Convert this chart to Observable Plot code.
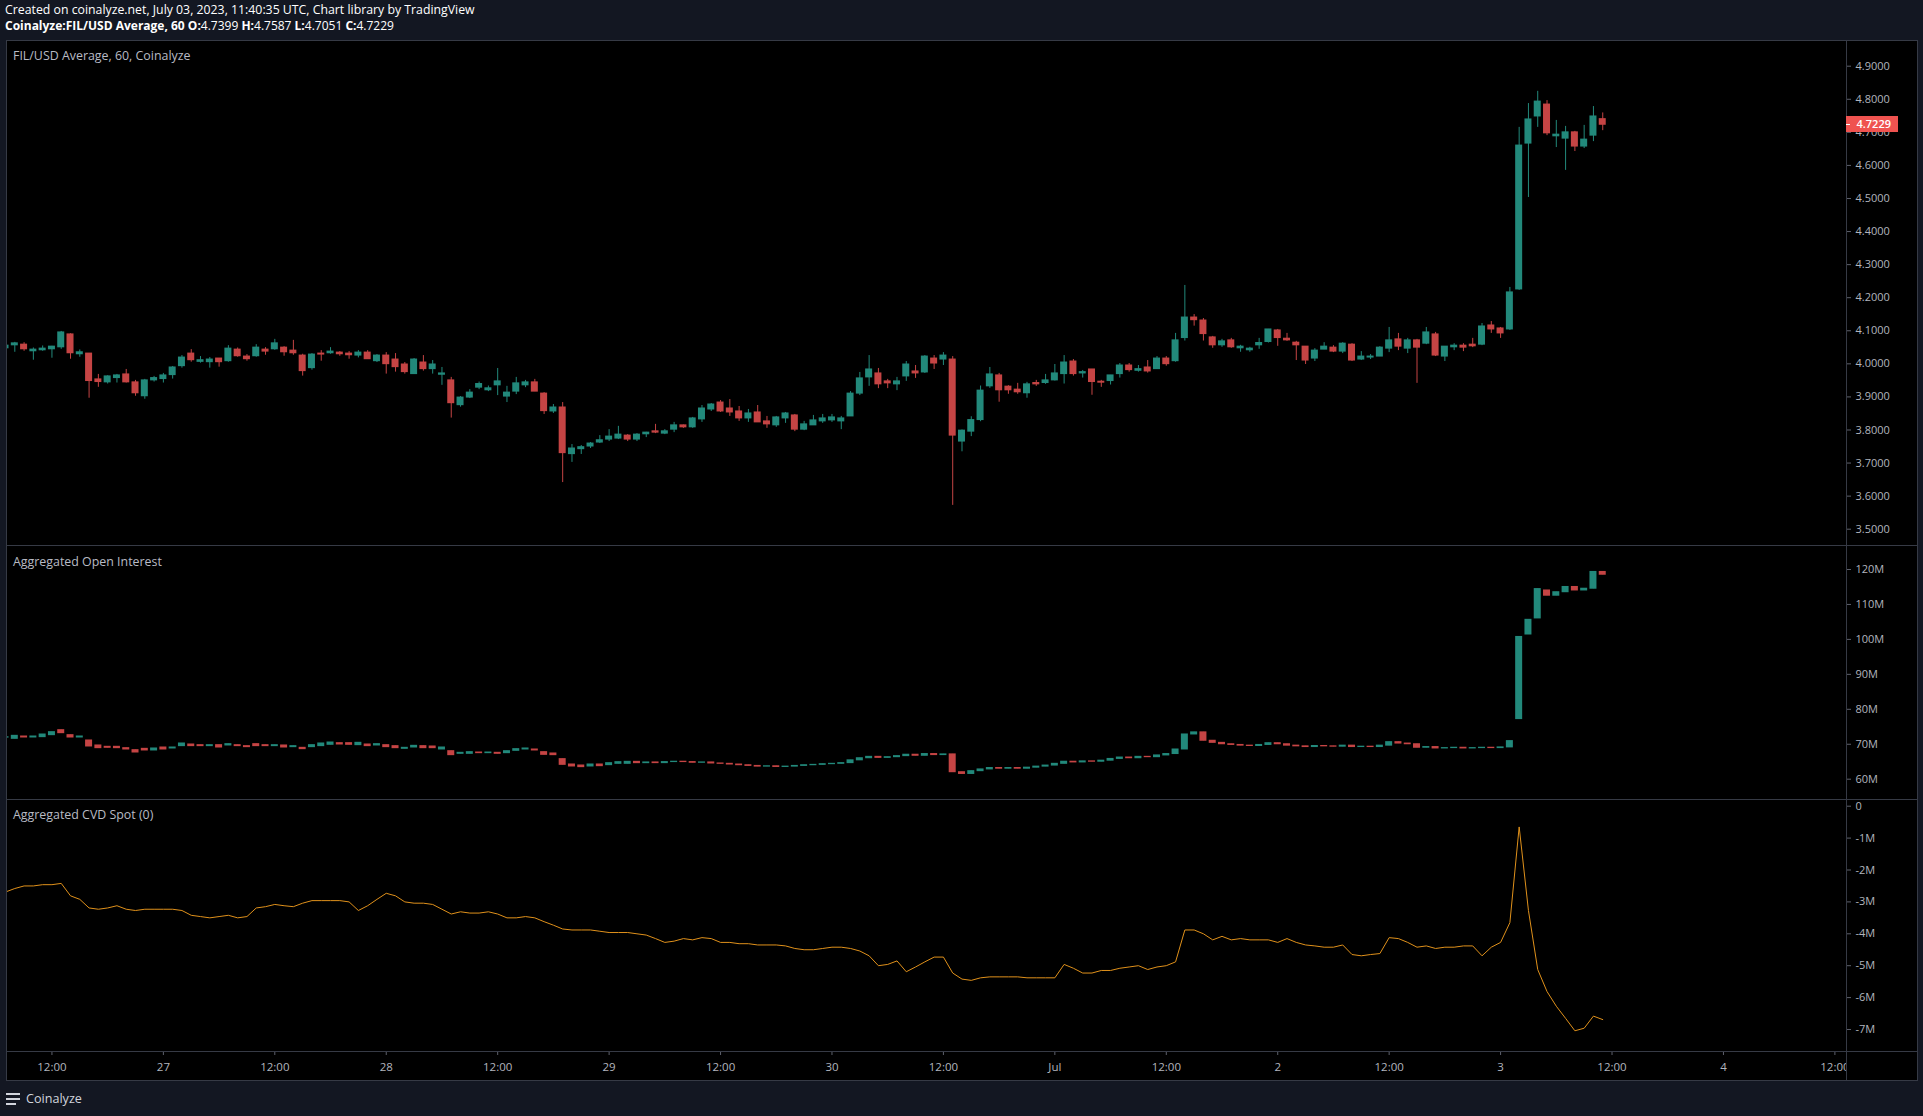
<!DOCTYPE html>
<html>
<head>
<meta charset="utf-8">
<script src="https://cdn.jsdelivr.net/npm/d3@7"></script>
<script src="https://cdn.jsdelivr.net/npm/@observablehq/plot@0.6"></script>
<style>
  html, body { margin:0; padding:0; }
  body { width:1923px; height:1116px; background:#131722; overflow:hidden; position:relative; font-family:"Open Sans", sans-serif; }
  .abs { position:absolute; }
  .hdr { left:5px; color:#ffffff; font-size:12.3px; white-space:nowrap; line-height:14px; }
  .lbl { left:13px; color:#b8bbc4; font-size:12.4px; white-space:nowrap; line-height:14px; }
  .ln { position:absolute; background:#363a45; }
  .pane { position:absolute; overflow:hidden; }
  .pane svg { display:block; }
  #cvd, #cvd svg { overflow:visible; }
</style>
</head>
<body>
<div class="abs hdr" style="top:3px">Created on coinalyze.net, July 03, 2023, 11:40:35 UTC, Chart library by TradingView</div>
<div class="abs hdr" style="top:19px;font-size:12px"><b>Coinalyze:FIL/USD Average, 60 O:</b>4.7399 <b>H:</b>4.7587 <b>L:</b>4.7051 <b>C:</b>4.7229</div>
<div class="abs" style="left:6px;top:40px;width:1911px;height:1040px;background:#000"></div>
<div id="price" class="pane" style="left:7px;top:41px;width:1910px;height:504px"></div>
<div id="oi" class="pane" style="left:7px;top:546px;width:1910px;height:253px"></div>
<div class="ln" style="left:6px;top:40px;width:1911px;height:1px"></div>
<div class="ln" style="left:6px;top:545px;width:1911px;height:1px"></div>
<div class="ln" style="left:6px;top:799px;width:1911px;height:1px"></div>
<div class="ln" style="left:6px;top:1051px;width:1911px;height:1px"></div>
<div class="ln" style="left:6px;top:1080px;width:1911px;height:1px"></div>
<div class="ln" style="left:6px;top:40px;width:1px;height:1041px"></div>
<div class="ln" style="left:1846px;top:40px;width:1px;height:1041px"></div>
<div class="ln" style="left:1917px;top:40px;width:1px;height:1041px"></div>
<div id="cvd" class="pane" style="left:7px;top:800px;width:1910px;height:251px"></div>
<div id="time" class="pane" style="left:7px;top:1052px;width:1839px;height:28px"></div>
<div class="abs lbl" style="top:49px">FIL/USD Average, 60, Coinalyze</div>
<div class="abs lbl" style="top:555px">Aggregated Open Interest</div>
<div class="abs lbl" style="top:808px">Aggregated CVD Spot (0)</div>
<div id="last" class="abs" style="left:1846px;width:52px;height:16px;background:#ef5350;color:#fff;font-size:11px;font-weight:600;line-height:16px;text-align:right"></div>
<div class="abs" style="left:6px;top:1093px">
  <div style="width:14px;height:2px;background:#d1d4dc;margin-bottom:3px"></div>
  <div style="width:14px;height:2px;background:#d1d4dc;margin-bottom:3px"></div>
  <div style="width:10px;height:2px;background:#d1d4dc"></div>
</div>
<div class="abs" style="left:26px;top:1091px;color:#d1d4dc;font-size:12.6px;line-height:16px">Coinalyze</div>
<script>
// ---- DATA (hourly candles, first = 2023-06-26 07:00 UTC) ----
const firstHour = "2023-06-26T07:00:00Z";

const priceOpen = [4.047,4.056,4.058,4.038,4.041,4.044,4.050,4.089,4.029,4.031,3.953,
3.944,3.957,3.968,3.944,3.902,3.950,3.954,3.966,3.993,4.031,
4.006,4.005,4.016,4.008,4.043,4.022,4.023,4.043,4.044,4.049,
4.040,4.025,3.987,4.031,4.032,4.034,4.031,4.025,4.034,4.008,
4.025,4.013,3.998,3.969,4.004,3.984,3.967,3.950,3.875,3.898,
3.928,3.920,3.935,3.901,3.916,3.935,3.944,3.910,3.856,3.868,
3.727,3.742,3.750,3.762,3.771,3.774,3.783,3.771,3.787,3.796,
3.789,3.801,3.814,3.808,3.832,3.862,3.883,3.865,3.856,3.835,
3.853,3.826,3.814,3.835,3.844,3.801,3.814,3.826,3.829,3.826,
3.841,3.910,3.959,3.971,3.947,3.938,3.962,3.977,3.974,4.016,
4.013,4.013,3.765,3.795,3.830,3.932,3.965,3.931,3.922,3.911,
3.942,3.942,3.950,3.969,4.007,3.971,3.983,3.946,3.948,3.969,
3.995,3.979,3.989,3.984,4.016,4.008,4.078,4.140,4.131,4.080,
4.056,4.071,4.047,4.041,4.056,4.066,4.101,4.076,4.064,4.052,
4.016,4.043,4.049,4.037,4.058,4.013,4.019,4.022,4.046,4.074,
4.046,4.071,4.061,4.089,4.022,4.050,4.055,4.058,4.058,4.116,
4.107,4.104,4.225,4.666,4.748,4.784,4.688,4.681,4.700,4.657,
4.690,4.7399];

const priceHigh = [4.057,4.065,4.064,4.048,4.054,4.053,4.098,4.091,4.042,4.031,3.968,
3.964,3.968,3.983,3.950,3.953,3.962,3.971,3.992,4.025,4.043,
4.022,4.019,4.016,4.055,4.048,4.028,4.058,4.049,4.074,4.052,
4.071,4.029,4.031,4.040,4.049,4.037,4.037,4.040,4.040,4.028,
4.034,4.031,4.004,4.016,4.025,4.010,3.989,3.959,3.901,3.922,
3.945,3.933,3.986,3.932,3.959,3.950,3.953,3.913,3.877,3.883,
3.756,3.753,3.762,3.783,3.801,3.811,3.786,3.789,3.793,3.817,
3.801,3.823,3.815,3.838,3.874,3.880,3.889,3.892,3.871,3.862,
3.874,3.841,3.841,3.853,3.847,3.826,3.844,3.847,3.847,3.841,
3.916,3.974,4.025,3.986,3.953,3.959,4.007,3.995,4.025,4.025,
4.034,4.022,3.800,3.840,3.933,3.989,3.971,3.934,3.941,3.944,
3.950,3.968,3.998,4.025,4.013,3.980,3.983,3.950,3.965,4.001,
4.001,3.995,4.010,4.022,4.022,4.092,4.237,4.149,4.137,4.083,
4.074,4.077,4.056,4.050,4.077,4.104,4.104,4.092,4.068,4.052,
4.046,4.064,4.055,4.064,4.061,4.037,4.028,4.052,4.110,4.092,
4.077,4.074,4.110,4.095,4.025,4.061,4.061,4.077,4.122,4.128,
4.110,4.231,4.715,4.787,4.824,4.796,4.736,4.718,4.703,4.721,
4.778,4.7587];

const priceLow = [4.045,4.035,4.038,4.011,4.038,4.017,4.044,4.014,4.020,3.896,3.929,
3.939,3.942,3.942,3.902,3.893,3.945,3.942,3.954,3.987,4.005,
4.002,3.987,3.990,4.005,4.020,4.008,4.020,4.026,4.041,4.023,
4.026,3.963,3.981,4.008,4.029,4.023,4.014,4.018,4.014,4.004,
3.969,3.975,3.969,3.969,3.978,3.969,3.935,3.836,3.869,3.895,
3.922,3.916,3.904,3.883,3.907,3.928,3.916,3.847,3.850,3.641,
3.702,3.726,3.744,3.759,3.765,3.771,3.765,3.765,3.777,3.789,
3.786,3.792,3.805,3.805,3.823,3.856,3.853,3.841,3.826,3.823,
3.823,3.805,3.808,3.820,3.795,3.798,3.814,3.820,3.823,3.801,
3.841,3.904,3.932,3.925,3.925,3.919,3.947,3.956,3.971,3.983,
3.995,3.572,3.734,3.780,3.825,3.926,3.884,3.908,3.908,3.896,
3.932,3.938,3.948,3.939,3.963,3.957,3.905,3.929,3.936,3.957,
3.975,3.975,3.972,3.983,3.993,4.005,4.069,4.114,4.069,4.047,
4.050,4.047,4.035,4.035,4.044,4.063,4.053,4.068,4.010,3.998,
4.007,4.043,4.034,4.031,4.007,4.010,4.013,4.022,4.034,4.040,
4.031,3.941,4.058,4.022,4.007,4.040,4.037,4.049,4.055,4.092,
4.077,4.101,4.222,4.503,4.715,4.690,4.654,4.585,4.642,4.651,
4.672,4.7051];

const priceClose = [4.055,4.062,4.044,4.043,4.046,4.052,4.095,4.032,4.035,3.948,3.945,
3.962,3.965,3.944,3.911,3.950,3.957,3.965,3.989,4.019,4.011,
4.011,4.013,4.005,4.046,4.023,4.014,4.049,4.037,4.062,4.035,
4.032,3.978,4.028,4.028,4.037,4.029,4.026,4.034,4.014,4.025,
3.999,3.990,3.975,4.013,3.984,3.998,3.971,3.881,3.898,3.913,
3.939,3.926,3.947,3.913,3.941,3.944,3.916,3.857,3.868,3.730,
3.744,3.748,3.759,3.769,3.780,3.786,3.771,3.786,3.792,3.792,
3.796,3.814,3.808,3.835,3.865,3.877,3.856,3.853,3.835,3.850,
3.823,3.817,3.838,3.850,3.801,3.817,3.829,3.835,3.838,3.835,
3.910,3.956,3.983,3.938,3.941,3.947,3.998,3.971,4.022,4.001,
4.025,3.783,3.798,3.830,3.919,3.968,3.920,3.920,3.914,3.938,
3.938,3.950,3.971,4.004,3.969,3.975,3.945,3.943,3.965,3.995,
3.981,3.984,3.977,4.016,3.999,4.071,4.140,4.132,4.090,4.056,
4.068,4.050,4.052,4.046,4.063,4.104,4.078,4.071,4.056,4.010,
4.040,4.052,4.037,4.061,4.010,4.022,4.022,4.049,4.071,4.052,
4.071,4.049,4.095,4.025,4.052,4.055,4.049,4.053,4.113,4.104,
4.092,4.216,4.660,4.739,4.793,4.697,4.693,4.700,4.657,4.678,
4.748,4.7229];

// Aggregated open interest, millions
const oiOpen = [71.9,71.55,72.22,71.93,72.03,72.60,74.03,72.60,71.93,71.08,69.65,
69.27,69.27,68.88,68.31,68.69,68.22,69.07,68.79,69.46,69.93,
69.74,69.46,69.74,69.65,69.74,69.46,70.03,69.74,69.46,69.65,
69.17,68.98,69.17,69.46,69.84,70.31,70.31,69.74,69.93,69.65,
69.74,69.46,68.69,69.07,69.46,69.36,68.50,68.02,67.26,67.26,
67.64,67.45,67.55,67.45,68.12,68.50,68.50,67.74,67.36,65.74,
64.21,63.92,63.64,64.21,64.02,64.40,64.40,64.97,64.59,64.8,
64.6,64.9,65.0,64.9,64.7,64.8,64.5,64.4,64.2,64.0,
63.8,63.6,63.7,63.5,63.6,63.8,64.0,64.1,64.3,64.4,
64.6,65.4,66.0,66.4,66.1,66.3,66.6,67.0,66.7,67.2,
66.9,67.1,62.0,61.5,62.3,62.8,63.2,63.0,63.2,63.0,
63.3,63.6,63.9,64.4,65.0,64.8,65.1,65.0,65.3,65.8,
66.2,66.0,66.4,66.3,66.8,67.2,68.5,72.8,73.4,71.0,
70.4,70.0,69.8,69.6,69.5,69.8,70.3,70.0,69.6,69.4,
69.2,69.5,69.4,69.3,69.6,69.2,69.3,69.2,69.6,70.6,
70.2,70.0,69.0,69.2,68.8,68.9,69.0,68.8,68.9,69.0,
68.9,69.1,77.2,101.4,106.0,114.0,112.5,113.5,115.0,114.0,
114.5,119.3];

const oiClose = [72.0,72.41,71.93,72.22,72.79,73.46,73.17,71.93,72.22,69.36,68.88,
68.98,68.88,68.50,67.64,68.22,68.79,68.50,69.07,70.22,69.46,
69.46,69.74,69.07,70.03,69.46,69.17,69.46,69.46,69.74,69.07,
69.46,68.60,69.74,70.22,70.50,69.93,69.84,70.41,69.46,70.03,
69.17,68.88,68.98,69.55,68.88,68.88,69.07,66.88,67.55,67.74,
67.45,67.64,67.26,68.02,68.60,68.79,68.22,66.97,66.88,64.11,
63.64,63.45,64.21,63.73,64.59,64.88,64.97,64.59,64.8,64.6,
64.9,65.0,64.9,64.7,64.8,64.5,64.4,64.2,64.0,63.8,
63.6,63.7,63.5,63.6,63.8,64.0,64.1,64.3,64.4,64.6,
65.4,66.0,66.4,66.1,66.3,66.6,67.0,66.7,67.2,66.9,
67.1,62.0,61.5,62.3,62.8,63.2,63.0,63.2,63.0,63.3,
63.6,63.9,64.4,65.0,64.8,65.1,65.0,65.3,65.8,66.2,
66.0,66.4,66.3,66.8,67.2,68.5,72.8,73.4,71.0,70.4,
70.0,69.8,69.6,69.5,69.8,70.3,70.0,69.6,69.4,69.2,
69.5,69.4,69.3,69.6,69.2,69.3,69.2,69.6,70.6,70.2,
70.0,69.0,69.2,68.8,68.9,69.0,68.8,68.9,69.0,68.9,
69.1,70.9,100.7,105.6,114.4,112.5,113.5,115.0,114.0,114.5,
119.3,118.5];

// Aggregated CVD spot, millions
const cvd = [-2.69,-2.58,-2.50,-2.50,-2.46,-2.46,-2.42,-2.81,-2.92,-3.19,-3.23,
-3.19,-3.12,-3.23,-3.27,-3.23,-3.23,-3.23,-3.23,-3.27,-3.42,
-3.46,-3.50,-3.46,-3.42,-3.50,-3.46,-3.19,-3.15,-3.08,-3.12,
-3.15,-3.04,-2.96,-2.96,-2.96,-2.96,-3.00,-3.27,-3.12,-2.92,
-2.73,-2.81,-3.00,-3.04,-3.04,-3.08,-3.23,-3.38,-3.31,-3.35,
-3.35,-3.31,-3.38,-3.50,-3.50,-3.46,-3.50,-3.62,-3.73,-3.85,
-3.88,-3.88,-3.88,-3.92,-3.96,-3.96,-3.96,-4.00,-4.04,-4.15,
-4.27,-4.23,-4.15,-4.19,-4.12,-4.15,-4.27,-4.27,-4.31,-4.31,
-4.35,-4.35,-4.35,-4.38,-4.46,-4.50,-4.50,-4.46,-4.42,-4.42,
-4.46,-4.54,-4.69,-5.00,-4.96,-4.85,-5.19,-5.04,-4.88,-4.73,
-4.73,-5.23,-5.42,-5.46,-5.38,-5.35,-5.35,-5.35,-5.35,-5.38,
-5.38,-5.38,-5.38,-4.96,-5.08,-5.23,-5.23,-5.15,-5.15,-5.08,
-5.04,-5.00,-5.12,-5.04,-5.00,-4.88,-3.88,-3.88,-4.00,-4.19,
-4.08,-4.19,-4.15,-4.19,-4.19,-4.19,-4.27,-4.15,-4.27,-4.35,
-4.38,-4.42,-4.42,-4.35,-4.65,-4.69,-4.65,-4.62,-4.12,-4.15,
-4.27,-4.42,-4.38,-4.46,-4.42,-4.42,-4.38,-4.38,-4.69,-4.42,
-4.27,-3.65,-0.65,-3.27,-5.12,-5.81,-6.27,-6.65,-7.04,-6.96,
-6.58,-6.69];

const priceTicks = [3.5,3.6,3.7,3.8,3.9,4.0,4.1,4.2,4.3,4.4,4.5,4.6,4.7,4.8,4.9];
const oiTicks = [60,70,80,90,100,110,120];
const cvdTicks = [0,-1,-2,-3,-4,-5,-6,-7];
const timeTicks = ["2023-06-26T12:00Z","2023-06-27T00:00Z","2023-06-27T12:00Z","2023-06-28T00:00Z",
"2023-06-28T12:00Z","2023-06-29T00:00Z","2023-06-29T12:00Z","2023-06-30T00:00Z","2023-06-30T12:00Z",
"2023-07-01T00:00Z","2023-07-01T12:00Z","2023-07-02T00:00Z","2023-07-02T12:00Z","2023-07-03T00:00Z",
"2023-07-03T12:00Z","2023-07-04T00:00Z","2023-07-04T12:00Z"];
const timeTickLabels = ["12:00","27","12:00","28","12:00","29","12:00","30","12:00","Jul","12:00","2","12:00","3","12:00","4","12:00"];
const lastPrice = 4.7229;

// ---- RENDER ----
const HOUR = 3600e3;
const T0 = Date.parse(firstHour);
const xDomain = [new Date(T0 + 0.214 * HOUR), new Date(T0 + 198.25 * HOUR)];
const UP = "#22897b", DOWN = "#c54444", CVD_COLOR = "#e0911b";
const AXIS_TEXT = "#b2b5be", AXIS_TICK = "#5d606b";
const FONT = '"Open Sans", sans-serif';

function rows(O, H, L, C) {
  return O.map((o, k) => ({
    t: new Date(T0 + k * HOUR), o,
    h: H ? H[k] : Math.max(o, C[k]),
    l: L ? L[k] : Math.min(o, C[k]),
    c: C[k], up: C[k] >= o
  }));
}
function candleMarks(data) {
  const m = [];
  for (const [set, col] of [[data.filter(d => d.up), UP], [data.filter(d => !d.up), DOWN]]) {
    m.push(Plot.ruleX(set, {x: "t", y1: "l", y2: "h", stroke: col, strokeWidth: 1, clip: true}));
    m.push(Plot.rect(set, {x1: "t", x2: "t", y1: "o", y2: "c", fill: col,
      insetLeft: -3.5, insetRight: -3.5, insetTop: -0.5, insetBottom: -0.5, clip: true}));
  }
  return m;
}
const baseStyle = {background: "transparent", color: AXIS_TEXT, fontFamily: FONT, fontSize: "11px"};
function tidy(svg) {
  d3.select(svg).selectAll('g[aria-label$="tick"]').attr("stroke", AXIS_TICK);
  return svg;
}

const priceRows = rows(priceOpen, priceHigh, priceLow, priceClose);
const pricePlot = Plot.plot({
  width: 1910, height: 504, marginLeft: 0, marginRight: 71, marginTop: 0, marginBottom: 0,
  style: baseStyle,
  x: {type: "utc", domain: xDomain, axis: null},
  y: {domain: [3.45071, 4.97469], axis: "right", label: null, ticks: priceTicks, tickFormat: d => d.toFixed(4), tickSize: 4, tickPadding: 5},
  marks: candleMarks(priceRows)
});
document.getElementById("price").appendChild(tidy(pricePlot));

const oiRows = rows(oiOpen, null, null, oiClose);
const oiPlot = Plot.plot({
  width: 1910, height: 253, marginLeft: 0, marginRight: 71, marginTop: 0, marginBottom: 0,
  style: baseStyle,
  x: {type: "utc", domain: xDomain, axis: null},
  y: {domain: [54.192, 126.581], axis: "right", label: null, ticks: oiTicks, tickFormat: d => d + "M", tickSize: 4, tickPadding: 5},
  marks: candleMarks(oiRows)
});
document.getElementById("oi").appendChild(tidy(oiPlot));

const cvdRows = cvd.map((v, k) => ({t: new Date(T0 + k * HOUR), v}));
const cvdPlot = Plot.plot({
  width: 1910, height: 251, marginLeft: 0, marginRight: 71, marginTop: 0, marginBottom: 0,
  style: {...baseStyle, overflow: "visible"},
  x: {type: "utc", domain: xDomain, axis: null},
  y: {domain: [-7.6897, 0.1787], axis: "right", label: null, ticks: cvdTicks, tickFormat: d => d === 0 ? "0" : d + "M", tickSize: 4, tickPadding: 5},
  marks: [Plot.line(cvdRows, {x: "t", y: "v", stroke: CVD_COLOR, strokeWidth: 1, clip: true})]
});
document.getElementById("cvd").appendChild(tidy(cvdPlot));

const tickDates = timeTicks.map(s => new Date(s));
const labelOf = new Map(tickDates.map((d, i) => [+d, timeTickLabels[i]]));
const timePlot = Plot.plot({
  width: 1839, height: 28, marginLeft: 0, marginRight: 0, marginTop: 0, marginBottom: 28,
  style: {...baseStyle, fontSize: "11.5px"},
  x: {type: "utc", domain: xDomain, label: null, ticks: tickDates, tickFormat: d => labelOf.get(+d) ?? "", tickSize: 3, tickPadding: 7},
  marks: [Plot.ruleX(tickDates, {x: d => d, stroke: "none"})]
});
document.getElementById("time").appendChild(tidy(timePlot));

const lastY = pricePlot.scale("y").apply(lastPrice);
const lastEl = document.getElementById("last");
lastEl.style.top = (41 + lastY - 8) + "px";
lastEl.innerHTML = '<span style="position:absolute;left:0;top:7.5px;width:4px;height:1px;background:#fff"></span><span style="padding-right:7px">' + lastPrice.toFixed(4) + '</span>';
</script>
</body>
</html>
